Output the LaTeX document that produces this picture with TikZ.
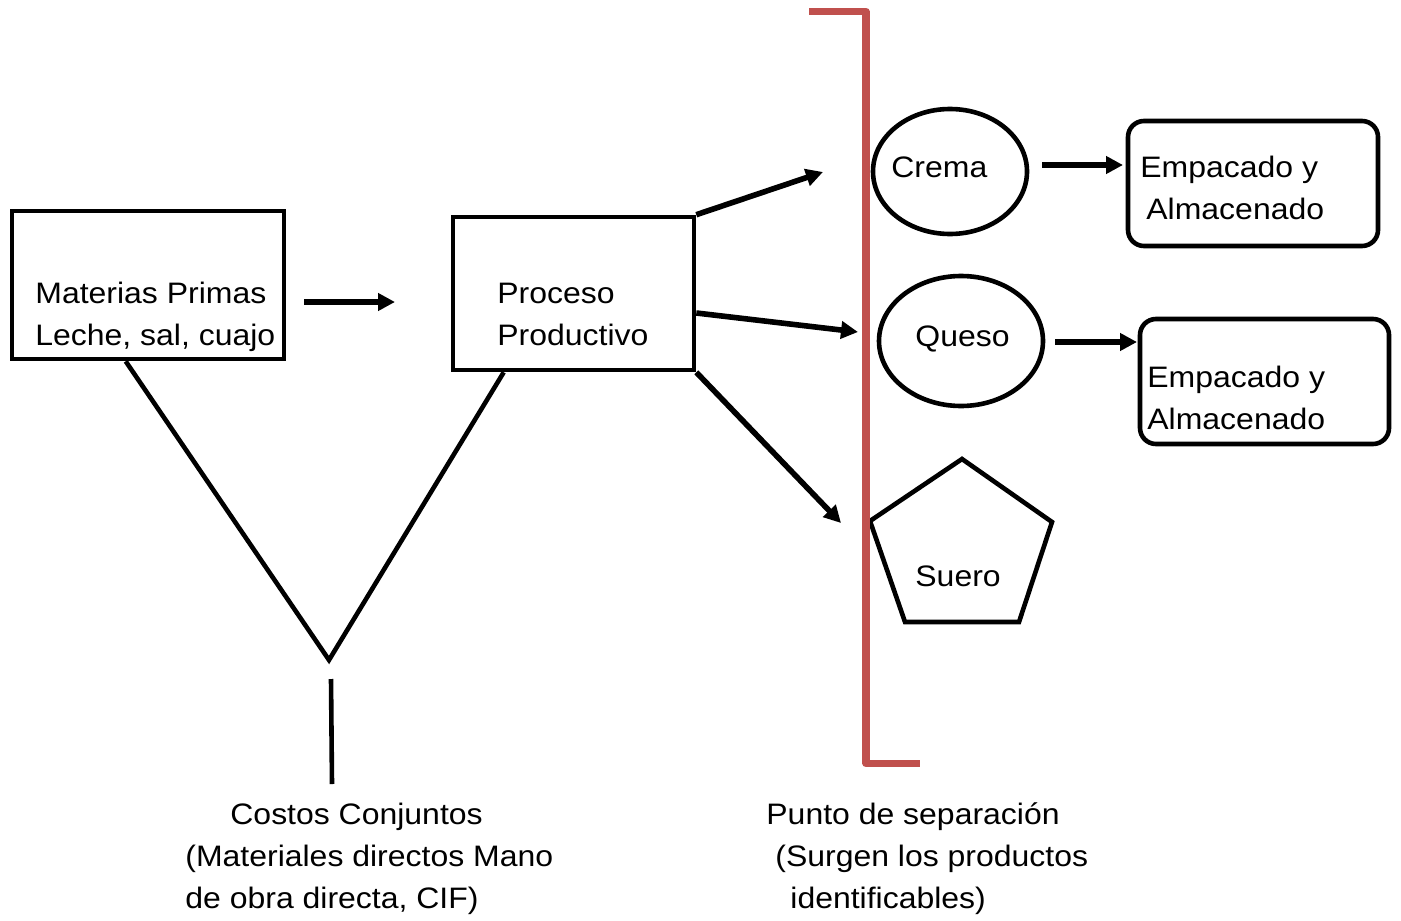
\documentclass[tikz,border=0pt]{standalone}
\usepackage{fontspec}
\setmainfont{Liberation Sans}[FakeStretch=1.08]
\usetikzlibrary{shapes.geometric,arrows.meta}
\definecolor{sepred}{RGB}{192,80,77}
\begin{document}
\begin{tikzpicture}[x=0.5pt,y=-0.5pt,
  box/.style={draw, line width=2.3pt, inner sep=0pt},
  txt/.style={anchor=base west, inner sep=0pt, align=left, font=\fontsize{14.8}{21}\selectfont},
  arr/.style={line width=2.8pt, -{Triangle[length=8.5pt,width=8.5pt]}},
  lin/.style={line width=2.3pt},
  sepline/.style={line width=3.6pt, draw=sepred, line join=round}]
\useasboundingbox (0,0) rectangle (1401,920);

% shapes
\node[box, minimum width=136pt, minimum height=74pt] (mp) at (148,285) {};
\node[box, minimum width=120.5pt, minimum height=76.5pt] (pp) at (573.5,293.5) {};
\node[box, ellipse, minimum width=77pt, minimum height=62.5pt] (crema) at (950,171.5) {};
\node[box, ellipse, minimum width=82pt, minimum height=65pt] (queso) at (961,341) {};
\node[box, rounded corners=8pt, minimum width=125pt, minimum height=62.5pt] (emp1) at (1253,183.5) {};
\node[box, rounded corners=8pt, minimum width=124.5pt, minimum height=62.5pt] (emp2) at (1264.5,381.5) {};
\coordinate (p1) at (962,459);
\coordinate (p2) at (1052,522);
\coordinate (p3) at (1019,622);
\coordinate (p4) at (905,622);
\coordinate (p5) at (870,521);
\draw[lin] (p1) -- (p2) -- (p3) -- (p4) -- (p5) -- cycle;

% texts (base anchor = baseline of the last line)
\node[txt] (tmp) at (35,345) {Materias Primas\\Leche, sal, cuajo};
\node[txt] (tpp) at (497,345) {Proceso\\Productivo};
\node[txt] (tcr) at (891,177) {Crema};
\node[txt] (tqu) at (915,346) {Queso};
\node[txt] (tsu) at (915,586) {Suero};
\node[txt] (te1) at (1140,219) {Empacado y\\\hspace*{3pt}Almacenado};
\node[txt] (te2) at (1147,429) {Empacado y\\Almacenado};
\node[txt] (tcc) at (185,908) {\hspace*{22.5pt}Costos Conjuntos\\(Materiales directos Mano\\de obra directa, CIF)};
\node[txt] (tps) at (766,908) {Punto de separación\\\hspace*{4.5pt}(Surgen los productos\\\hspace*{12pt}identificables)};

% arrows
\coordinate (a1s) at (304,302);
\coordinate (a1e) at (395,302);
\draw[arr] (a1s) -- (a1e);
\coordinate (ctop) at (823,172);
\coordinate (cmid) at (858,332);
\coordinate (cbot) at (841,523);
\draw[arr] (pp.north east) -- (ctop);
\draw[arr] ([yshift=-9.75pt]pp.east) -- (cmid);
\draw[arr] (pp.south east) -- (cbot);
\coordinate (b1s) at (1042,165);
\coordinate (b1e) at (1123,165);
\draw[arr] (b1s) -- (b1e);
\coordinate (b2s) at (1055,342);
\coordinate (b2e) at (1137,342);
\draw[arr] (b2s) -- (b2e);

% V lines
\coordinate (vtip) at (329,660);
\draw[lin] ([xshift=58pt]mp.south west) -- (vtip) -- ([xshift=26.5pt]pp.south west);
\coordinate (cc1) at (331,679);
\coordinate (cc2) at (332,784);
\draw[lin] (cc1) -- (cc2);

% separation bracket
\draw[sepline] (809,11.5) -- (866,11.5) -- (866,763.5) -- (920,763.5);
\end{tikzpicture}
\end{document}
